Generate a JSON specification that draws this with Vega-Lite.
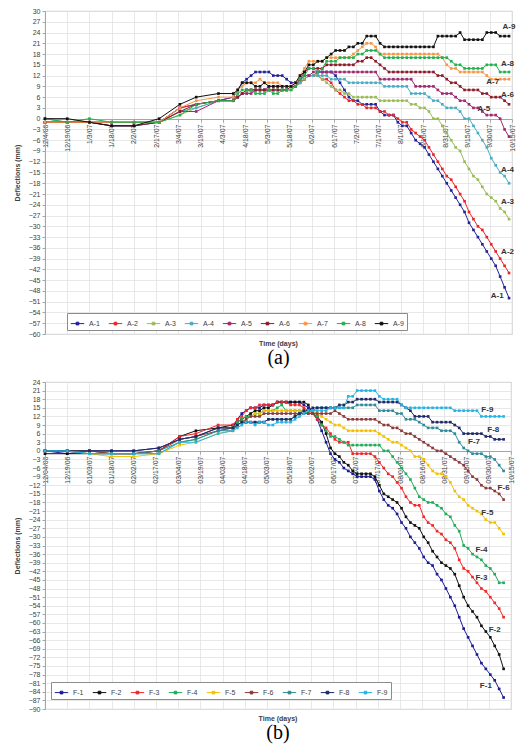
{
  "$schema": "https://vega.github.io/schema/vega-lite/v6.json",
  "padding": {"left": 12, "top": 6, "right": 2, "bottom": 0},
  "spacing": 8,
  "config": {
    "font": "Liberation Sans",
    "view": {"stroke": "#bfbfbf", "strokeWidth": 0.8},
    "axis": {
      "labelFontSize": 7,
      "labelColor": "#404040",
      "titleFontSize": 7,
      "titleFontWeight": "bold",
      "titleColor": "#404040",
      "gridColor": "#dedede",
      "gridWidth": 0.7,
      "domainColor": "#a6a6a6",
      "tickColor": "#a6a6a6",
      "tickSize": 3,
      "labelPadding": 2
    },
    "legend": {
      "labelFontSize": 7,
      "labelColor": "#404040",
      "strokeColor": "#8c8c8c",
      "fillColor": "white",
      "padding": 3,
      "columnPadding": 6,
      "symbolType": "M-1,0H1M-0.2,-0.2H0.2V0.2H-0.2Z",
      "symbolSize": 180,
      "symbolStrokeWidth": 1
    },
    "title": {"font": "Liberation Sans"}
  },
  "datasets": {
    "topLines": [
      {"d": "2006-12-04", "A-1": -1, "A-2": -1, "A-3": -1, "A-4": 0, "A-5": -1, "A-6": -1, "A-7": -1, "A-8": 0, "A-9": 0},
      {"d": "2006-12-19", "A-1": -1, "A-2": -1, "A-3": -1, "A-4": -1, "A-5": -1, "A-6": -1, "A-7": -1, "A-8": -1, "A-9": 0},
      {"d": "2007-01-03", "A-1": -1, "A-2": -1, "A-3": -1, "A-4": -1, "A-5": -1, "A-6": -1, "A-7": -1, "A-8": 0, "A-9": -1},
      {"d": "2007-01-18", "A-1": -2, "A-2": -1, "A-3": -1, "A-4": -1, "A-5": -1, "A-6": -2, "A-7": -1, "A-8": -1, "A-9": -2},
      {"d": "2007-02-02", "A-1": -2, "A-2": -1, "A-3": -1, "A-4": -1, "A-5": -1, "A-6": -2, "A-7": -1, "A-8": -1, "A-9": -2},
      {"d": "2007-02-19", "A-1": -1, "A-2": -1, "A-3": -1, "A-4": -1, "A-5": -1, "A-6": -1, "A-7": -1, "A-8": -1, "A-9": 0},
      {"d": "2007-03-05", "A-1": 3, "A-2": 3, "A-3": 1, "A-4": 2, "A-5": 2, "A-6": 2, "A-7": 3, "A-8": 1, "A-9": 4},
      {"d": "2007-03-16", "A-1": 4, "A-2": 4, "A-3": 3, "A-4": 3, "A-5": 2, "A-6": 4, "A-7": 5, "A-8": 4, "A-9": 6},
      {"d": "2007-03-31", "A-1": 5, "A-2": 5, "A-3": 5, "A-4": 5, "A-5": 5, "A-6": 5, "A-7": 6, "A-8": 5, "A-9": 7},
      {"d": "2007-04-10", "A-1": 6, "A-2": 5, "A-3": 5, "A-4": 5, "A-5": 6, "A-6": 5, "A-7": 6, "A-8": 5, "A-9": 7},
      {"d": "2007-04-13", "A-1": 8, "A-2": 6, "A-3": 6, "A-4": 6, "A-5": 6, "A-6": 6, "A-7": 8, "A-8": 7, "A-9": 8},
      {"d": "2007-04-16", "A-1": 10, "A-2": 7, "A-3": 7, "A-4": 7, "A-5": 7, "A-6": 7, "A-7": 9, "A-8": 8, "A-9": 10},
      {"d": "2007-04-19", "A-1": 11, "A-2": 8, "A-3": 7, "A-4": 8, "A-5": 7, "A-6": 8, "A-7": 10, "A-8": 8, "A-9": 10},
      {"d": "2007-04-22", "A-1": 12, "A-2": 8, "A-3": 8, "A-4": 8, "A-5": 7, "A-6": 8, "A-7": 10, "A-8": 8, "A-9": 10},
      {"d": "2007-04-25", "A-1": 13, "A-2": 8, "A-3": 8, "A-4": 8, "A-5": 8, "A-6": 8, "A-7": 10, "A-8": 7, "A-9": 9},
      {"d": "2007-04-28", "A-1": 13, "A-2": 8, "A-3": 8, "A-4": 8, "A-5": 8, "A-6": 8, "A-7": 11, "A-8": 7, "A-9": 9},
      {"d": "2007-05-01", "A-1": 13, "A-2": 8, "A-3": 8, "A-4": 8, "A-5": 8, "A-6": 8, "A-7": 10, "A-8": 7, "A-9": 10},
      {"d": "2007-05-04", "A-1": 13, "A-2": 8, "A-3": 8, "A-4": 8, "A-5": 9, "A-6": 8, "A-7": 10, "A-8": 8, "A-9": 9},
      {"d": "2007-05-07", "A-1": 12, "A-2": 8, "A-3": 8, "A-4": 8, "A-5": 9, "A-6": 8, "A-7": 10, "A-8": 7, "A-9": 9},
      {"d": "2007-05-10", "A-1": 12, "A-2": 8, "A-3": 8, "A-4": 8, "A-5": 9, "A-6": 8, "A-7": 10, "A-8": 7, "A-9": 9},
      {"d": "2007-05-13", "A-1": 12, "A-2": 8, "A-3": 8, "A-4": 8, "A-5": 9, "A-6": 8, "A-7": 9, "A-8": 8, "A-9": 9},
      {"d": "2007-05-16", "A-1": 11, "A-2": 8, "A-3": 8, "A-4": 8, "A-5": 9, "A-6": 8, "A-7": 9, "A-8": 8, "A-9": 9},
      {"d": "2007-05-19", "A-1": 10, "A-2": 9, "A-3": 8, "A-4": 9, "A-5": 9, "A-6": 9, "A-7": 9, "A-8": 8, "A-9": 9},
      {"d": "2007-05-22", "A-1": 10, "A-2": 9, "A-3": 9, "A-4": 9, "A-5": 10, "A-6": 9, "A-7": 10, "A-8": 9, "A-9": 10},
      {"d": "2007-05-25", "A-1": 10, "A-2": 10, "A-3": 10, "A-4": 10, "A-5": 11, "A-6": 11, "A-7": 12, "A-8": 11, "A-9": 12},
      {"d": "2007-05-28", "A-1": 11, "A-2": 11, "A-3": 11, "A-4": 12, "A-5": 12, "A-6": 13, "A-7": 14, "A-8": 12, "A-9": 13},
      {"d": "2007-05-31", "A-1": 12, "A-2": 12, "A-3": 12, "A-4": 12, "A-5": 12, "A-6": 14, "A-7": 16, "A-8": 14, "A-9": 15},
      {"d": "2007-06-03", "A-1": 12, "A-2": 12, "A-3": 12, "A-4": 12, "A-5": 13, "A-6": 14, "A-7": 16, "A-8": 14, "A-9": 15},
      {"d": "2007-06-06", "A-1": 13, "A-2": 12, "A-3": 12, "A-4": 12, "A-5": 13, "A-6": 14, "A-7": 16, "A-8": 13, "A-9": 16},
      {"d": "2007-06-09", "A-1": 13, "A-2": 11, "A-3": 11, "A-4": 12, "A-5": 13, "A-6": 14, "A-7": 16, "A-8": 14, "A-9": 16},
      {"d": "2007-06-12", "A-1": 13, "A-2": 11, "A-3": 10, "A-4": 12, "A-5": 13, "A-6": 15, "A-7": 17, "A-8": 16, "A-9": 17},
      {"d": "2007-06-15", "A-1": 13, "A-2": 10, "A-3": 9, "A-4": 11, "A-5": 13, "A-6": 15, "A-7": 17, "A-8": 16, "A-9": 18},
      {"d": "2007-06-18", "A-1": 12, "A-2": 8, "A-3": 8, "A-4": 11, "A-5": 13, "A-6": 15, "A-7": 17, "A-8": 16, "A-9": 19},
      {"d": "2007-06-21", "A-1": 10, "A-2": 7, "A-3": 8, "A-4": 11, "A-5": 13, "A-6": 15, "A-7": 17, "A-8": 17, "A-9": 19},
      {"d": "2007-06-24", "A-1": 8, "A-2": 6, "A-3": 7, "A-4": 11, "A-5": 13, "A-6": 15, "A-7": 17, "A-8": 17, "A-9": 19},
      {"d": "2007-06-27", "A-1": 6, "A-2": 5, "A-3": 7, "A-4": 10, "A-5": 13, "A-6": 15, "A-7": 17, "A-8": 17, "A-9": 20},
      {"d": "2007-06-30", "A-1": 5, "A-2": 5, "A-3": 6, "A-4": 10, "A-5": 13, "A-6": 15, "A-7": 18, "A-8": 17, "A-9": 20},
      {"d": "2007-07-03", "A-1": 5, "A-2": 4, "A-3": 6, "A-4": 10, "A-5": 13, "A-6": 16, "A-7": 19, "A-8": 18, "A-9": 21},
      {"d": "2007-07-06", "A-1": 4, "A-2": 4, "A-3": 6, "A-4": 10, "A-5": 13, "A-6": 16, "A-7": 20, "A-8": 18, "A-9": 21},
      {"d": "2007-07-09", "A-1": 4, "A-2": 3, "A-3": 6, "A-4": 10, "A-5": 13, "A-6": 17, "A-7": 21, "A-8": 19, "A-9": 23},
      {"d": "2007-07-12", "A-1": 4, "A-2": 3, "A-3": 6, "A-4": 10, "A-5": 13, "A-6": 17, "A-7": 21, "A-8": 19, "A-9": 23},
      {"d": "2007-07-15", "A-1": 4, "A-2": 3, "A-3": 6, "A-4": 10, "A-5": 13, "A-6": 16, "A-7": 20, "A-8": 19, "A-9": 23},
      {"d": "2007-07-18", "A-1": 2, "A-2": 2, "A-3": 5, "A-4": 10, "A-5": 11, "A-6": 15, "A-7": 18, "A-8": 18, "A-9": 21},
      {"d": "2007-07-21", "A-1": 1, "A-2": 2, "A-3": 5, "A-4": 9, "A-5": 11, "A-6": 14, "A-7": 18, "A-8": 17, "A-9": 20},
      {"d": "2007-07-24", "A-1": 1, "A-2": 1, "A-3": 5, "A-4": 9, "A-5": 11, "A-6": 13, "A-7": 18, "A-8": 17, "A-9": 20},
      {"d": "2007-07-27", "A-1": 1, "A-2": 1, "A-3": 5, "A-4": 9, "A-5": 11, "A-6": 13, "A-7": 18, "A-8": 17, "A-9": 20},
      {"d": "2007-07-30", "A-1": -1, "A-2": 0, "A-3": 5, "A-4": 9, "A-5": 11, "A-6": 13, "A-7": 18, "A-8": 17, "A-9": 20},
      {"d": "2007-08-02", "A-1": -2, "A-2": -1, "A-3": 5, "A-4": 9, "A-5": 11, "A-6": 13, "A-7": 18, "A-8": 17, "A-9": 20},
      {"d": "2007-08-05", "A-1": -2, "A-2": -1, "A-3": 5, "A-4": 9, "A-5": 11, "A-6": 13, "A-7": 18, "A-8": 17, "A-9": 20},
      {"d": "2007-08-08", "A-1": -4, "A-2": -3, "A-3": 4, "A-4": 7, "A-5": 11, "A-6": 13, "A-7": 18, "A-8": 17, "A-9": 20},
      {"d": "2007-08-11", "A-1": -6, "A-2": -4, "A-3": 4, "A-4": 7, "A-5": 9, "A-6": 13, "A-7": 18, "A-8": 17, "A-9": 20},
      {"d": "2007-08-14", "A-1": -7, "A-2": -5, "A-3": 3, "A-4": 7, "A-5": 9, "A-6": 13, "A-7": 18, "A-8": 17, "A-9": 20},
      {"d": "2007-08-17", "A-1": -8, "A-2": -6, "A-3": 3, "A-4": 7, "A-5": 9, "A-6": 13, "A-7": 18, "A-8": 17, "A-9": 20},
      {"d": "2007-08-20", "A-1": -10, "A-2": -8, "A-3": 2, "A-4": 6, "A-5": 9, "A-6": 13, "A-7": 18, "A-8": 17, "A-9": 20},
      {"d": "2007-08-23", "A-1": -12, "A-2": -10, "A-3": 0, "A-4": 5, "A-5": 9, "A-6": 13, "A-7": 18, "A-8": 17, "A-9": 20},
      {"d": "2007-08-26", "A-1": -14, "A-2": -12, "A-3": 0, "A-4": 5, "A-5": 8, "A-6": 12, "A-7": 18, "A-8": 17, "A-9": 23},
      {"d": "2007-08-29", "A-1": -16, "A-2": -14, "A-3": -2, "A-4": 4, "A-5": 7, "A-6": 12, "A-7": 17, "A-8": 17, "A-9": 23},
      {"d": "2007-09-01", "A-1": -18, "A-2": -16, "A-3": -4, "A-4": 3, "A-5": 7, "A-6": 11, "A-7": 15, "A-8": 17, "A-9": 23},
      {"d": "2007-09-04", "A-1": -20, "A-2": -17, "A-3": -6, "A-4": 3, "A-5": 7, "A-6": 10, "A-7": 14, "A-8": 16, "A-9": 23},
      {"d": "2007-09-07", "A-1": -22, "A-2": -19, "A-3": -8, "A-4": 3, "A-5": 6, "A-6": 10, "A-7": 14, "A-8": 15, "A-9": 23},
      {"d": "2007-09-10", "A-1": -24, "A-2": -21, "A-3": -9, "A-4": 2, "A-5": 5, "A-6": 9, "A-7": 13, "A-8": 15, "A-9": 24},
      {"d": "2007-09-13", "A-1": -26, "A-2": -23, "A-3": -12, "A-4": 0, "A-5": 5, "A-6": 8, "A-7": 13, "A-8": 14, "A-9": 22},
      {"d": "2007-09-16", "A-1": -29, "A-2": -26, "A-3": -14, "A-4": 0, "A-5": 4, "A-6": 8, "A-7": 13, "A-8": 14, "A-9": 22},
      {"d": "2007-09-19", "A-1": -31, "A-2": -28, "A-3": -16, "A-4": -2, "A-5": 3, "A-6": 8, "A-7": 13, "A-8": 14, "A-9": 22},
      {"d": "2007-09-22", "A-1": -33, "A-2": -30, "A-3": -17, "A-4": -4, "A-5": 3, "A-6": 8, "A-7": 13, "A-8": 14, "A-9": 22},
      {"d": "2007-09-25", "A-1": -35, "A-2": -31, "A-3": -19, "A-4": -6, "A-5": 2, "A-6": 7, "A-7": 13, "A-8": 14, "A-9": 22},
      {"d": "2007-09-28", "A-1": -37, "A-2": -33, "A-3": -21, "A-4": -8, "A-5": 1, "A-6": 7, "A-7": 12, "A-8": 15, "A-9": 24},
      {"d": "2007-10-01", "A-1": -39, "A-2": -35, "A-3": -22, "A-4": -11, "A-5": 1, "A-6": 6, "A-7": 11, "A-8": 15, "A-9": 24},
      {"d": "2007-10-04", "A-1": -41, "A-2": -37, "A-3": -23, "A-4": -13, "A-5": 1, "A-6": 6, "A-7": 11, "A-8": 15, "A-9": 24},
      {"d": "2007-10-07", "A-1": -44, "A-2": -39, "A-3": -25, "A-4": -15, "A-5": 0, "A-6": 6, "A-7": 11, "A-8": 13, "A-9": 23},
      {"d": "2007-10-10", "A-1": -47, "A-2": -41, "A-3": -26, "A-4": -16, "A-5": -3, "A-6": 5, "A-7": 11, "A-8": 13, "A-9": 23},
      {"d": "2007-10-13", "A-1": -50, "A-2": -43, "A-3": -28, "A-4": -18, "A-5": -5, "A-6": 4, "A-7": 11, "A-8": 13, "A-9": 23}
    ],
    "topLabels": [
      {"d": "2007-10-13", "value": 25.5, "label": "A-9"},
      {"d": "2007-10-12", "value": 15.2, "label": "A-8"},
      {"d": "2007-10-02", "value": 10.2, "label": "A-7"},
      {"d": "2007-10-12", "value": 6.5, "label": "A-6"},
      {"d": "2007-09-26", "value": 2.6, "label": "A-5"},
      {"d": "2007-10-12", "value": -14.2, "label": "A-4"},
      {"d": "2007-10-12", "value": -23.3, "label": "A-3"},
      {"d": "2007-10-12", "value": -37.2, "label": "A-2"},
      {"d": "2007-10-05", "value": -49.4, "label": "A-1"}
    ],
    "botLines": [
      {"d": "2006-12-04", "F-1": 0, "F-2": -1, "F-3": 0, "F-4": 0, "F-5": 0, "F-6": 0, "F-7": 0, "F-8": 0, "F-9": 0},
      {"d": "2006-12-19", "F-1": -1, "F-2": -1, "F-3": 0, "F-4": 0, "F-5": 0, "F-6": 0, "F-7": 0, "F-8": 0, "F-9": 0},
      {"d": "2007-01-03", "F-1": 0, "F-2": -1, "F-3": 0, "F-4": 0, "F-5": -1, "F-6": 0, "F-7": -1, "F-8": 0, "F-9": -1},
      {"d": "2007-01-18", "F-1": 0, "F-2": -1, "F-3": -1, "F-4": -1, "F-5": -2, "F-6": -1, "F-7": -1, "F-8": 0, "F-9": -1},
      {"d": "2007-02-02", "F-1": 0, "F-2": -1, "F-3": -1, "F-4": -1, "F-5": -2, "F-6": -1, "F-7": -1, "F-8": 0, "F-9": -1},
      {"d": "2007-02-19", "F-1": 1, "F-2": 0, "F-3": 0, "F-4": -1, "F-5": -1, "F-6": 0, "F-7": 0, "F-8": 1, "F-9": -1},
      {"d": "2007-03-05", "F-1": 4, "F-2": 5, "F-3": 5, "F-4": 3, "F-5": 2, "F-6": 4, "F-7": 3, "F-8": 4, "F-9": 3},
      {"d": "2007-03-16", "F-1": 5, "F-2": 7, "F-3": 6, "F-4": 4, "F-5": 3, "F-6": 5, "F-7": 4, "F-8": 5, "F-9": 3},
      {"d": "2007-03-31", "F-1": 8, "F-2": 8, "F-3": 9, "F-4": 7, "F-5": 6, "F-6": 7, "F-7": 7, "F-8": 8, "F-9": 6},
      {"d": "2007-04-10", "F-1": 8, "F-2": 9, "F-3": 9, "F-4": 8, "F-5": 7, "F-6": 8, "F-7": 7, "F-8": 8, "F-9": 7},
      {"d": "2007-04-13", "F-1": 11, "F-2": 10, "F-3": 11, "F-4": 10, "F-5": 9, "F-6": 9, "F-7": 9, "F-8": 9, "F-9": 8},
      {"d": "2007-04-16", "F-1": 13, "F-2": 11, "F-3": 12, "F-4": 11, "F-5": 10, "F-6": 10, "F-7": 10, "F-8": 10, "F-9": 9},
      {"d": "2007-04-19", "F-1": 14, "F-2": 12, "F-3": 14, "F-4": 12, "F-5": 11, "F-6": 11, "F-7": 10, "F-8": 10, "F-9": 10},
      {"d": "2007-04-22", "F-1": 15, "F-2": 13, "F-3": 15, "F-4": 12, "F-5": 12, "F-6": 12, "F-7": 10, "F-8": 10, "F-9": 10},
      {"d": "2007-04-25", "F-1": 15, "F-2": 14, "F-3": 15, "F-4": 13, "F-5": 13, "F-6": 12, "F-7": 10, "F-8": 10, "F-9": 9},
      {"d": "2007-04-28", "F-1": 15, "F-2": 14, "F-3": 16, "F-4": 13, "F-5": 13, "F-6": 12, "F-7": 10, "F-8": 10, "F-9": 10},
      {"d": "2007-05-01", "F-1": 16, "F-2": 15, "F-3": 16, "F-4": 14, "F-5": 14, "F-6": 13, "F-7": 10, "F-8": 10, "F-9": 10},
      {"d": "2007-05-04", "F-1": 16, "F-2": 15, "F-3": 16, "F-4": 14, "F-5": 14, "F-6": 13, "F-7": 11, "F-8": 11, "F-9": 9},
      {"d": "2007-05-07", "F-1": 16, "F-2": 16, "F-3": 16, "F-4": 14, "F-5": 14, "F-6": 13, "F-7": 11, "F-8": 11, "F-9": 9},
      {"d": "2007-05-10", "F-1": 17, "F-2": 17, "F-3": 17, "F-4": 15, "F-5": 14, "F-6": 13, "F-7": 11, "F-8": 11, "F-9": 10},
      {"d": "2007-05-13", "F-1": 17, "F-2": 17, "F-3": 17, "F-4": 16, "F-5": 14, "F-6": 13, "F-7": 11, "F-8": 11, "F-9": 10},
      {"d": "2007-05-16", "F-1": 17, "F-2": 17, "F-3": 17, "F-4": 14, "F-5": 14, "F-6": 13, "F-7": 11, "F-8": 11, "F-9": 10},
      {"d": "2007-05-19", "F-1": 17, "F-2": 17, "F-3": 16, "F-4": 14, "F-5": 14, "F-6": 13, "F-7": 11, "F-8": 11, "F-9": 10},
      {"d": "2007-05-22", "F-1": 17, "F-2": 17, "F-3": 16, "F-4": 14, "F-5": 14, "F-6": 13, "F-7": 12, "F-8": 12, "F-9": 11},
      {"d": "2007-05-25", "F-1": 17, "F-2": 17, "F-3": 16, "F-4": 14, "F-5": 14, "F-6": 13, "F-7": 13, "F-8": 13, "F-9": 12},
      {"d": "2007-05-28", "F-1": 16, "F-2": 17, "F-3": 15, "F-4": 14, "F-5": 14, "F-6": 13, "F-7": 14, "F-8": 14, "F-9": 13},
      {"d": "2007-05-31", "F-1": 15, "F-2": 16, "F-3": 14, "F-4": 13, "F-5": 14, "F-6": 13, "F-7": 14, "F-8": 14, "F-9": 14},
      {"d": "2007-06-03", "F-1": 13, "F-2": 13, "F-3": 13, "F-4": 13, "F-5": 14, "F-6": 13, "F-7": 14, "F-8": 15, "F-9": 14},
      {"d": "2007-06-06", "F-1": 11, "F-2": 12, "F-3": 11, "F-4": 12, "F-5": 13, "F-6": 13, "F-7": 15, "F-8": 15, "F-9": 14},
      {"d": "2007-06-09", "F-1": 7, "F-2": 10, "F-3": 9, "F-4": 9, "F-5": 12, "F-6": 13, "F-7": 15, "F-8": 15, "F-9": 14},
      {"d": "2007-06-12", "F-1": 3, "F-2": 6, "F-3": 8, "F-4": 7, "F-5": 11, "F-6": 13, "F-7": 15, "F-8": 15, "F-9": 14},
      {"d": "2007-06-15", "F-1": -1, "F-2": 1, "F-3": 6, "F-4": 5, "F-5": 10, "F-6": 13, "F-7": 15, "F-8": 15, "F-9": 15},
      {"d": "2007-06-18", "F-1": -3, "F-2": -1, "F-3": 4, "F-4": 5, "F-5": 9, "F-6": 14, "F-7": 15, "F-8": 15, "F-9": 15},
      {"d": "2007-06-21", "F-1": -4, "F-2": -2, "F-3": 3, "F-4": 4, "F-5": 9, "F-6": 13, "F-7": 15, "F-8": 16, "F-9": 15},
      {"d": "2007-06-24", "F-1": -6, "F-2": -4, "F-3": 3, "F-4": 3, "F-5": 8, "F-6": 12, "F-7": 15, "F-8": 16, "F-9": 15},
      {"d": "2007-06-27", "F-1": -7, "F-2": -5, "F-3": 3, "F-4": 2, "F-5": 7, "F-6": 11, "F-7": 15, "F-8": 17, "F-9": 19},
      {"d": "2007-06-30", "F-1": -8, "F-2": -7, "F-3": -1, "F-4": 2, "F-5": 7, "F-6": 11, "F-7": 15, "F-8": 17, "F-9": 19},
      {"d": "2007-07-03", "F-1": -9, "F-2": -8, "F-3": -1, "F-4": 2, "F-5": 7, "F-6": 11, "F-7": 16, "F-8": 18, "F-9": 21},
      {"d": "2007-07-06", "F-1": -9, "F-2": -8, "F-3": -1, "F-4": 2, "F-5": 7, "F-6": 11, "F-7": 16, "F-8": 18, "F-9": 21},
      {"d": "2007-07-09", "F-1": -9, "F-2": -8, "F-3": -1, "F-4": 2, "F-5": 7, "F-6": 11, "F-7": 16, "F-8": 18, "F-9": 21},
      {"d": "2007-07-12", "F-1": -9, "F-2": -8, "F-3": -1, "F-4": 2, "F-5": 7, "F-6": 11, "F-7": 16, "F-8": 18, "F-9": 21},
      {"d": "2007-07-15", "F-1": -10, "F-2": -9, "F-3": -2, "F-4": 2, "F-5": 7, "F-6": 11, "F-7": 16, "F-8": 18, "F-9": 21},
      {"d": "2007-07-18", "F-1": -14, "F-2": -12, "F-3": -4, "F-4": 2, "F-5": 6, "F-6": 10, "F-7": 14, "F-8": 17, "F-9": 19},
      {"d": "2007-07-21", "F-1": -17, "F-2": -15, "F-3": -6, "F-4": 0, "F-5": 5, "F-6": 9, "F-7": 14, "F-8": 17, "F-9": 18},
      {"d": "2007-07-24", "F-1": -19, "F-2": -16, "F-3": -8, "F-4": 0, "F-5": 4, "F-6": 9, "F-7": 14, "F-8": 17, "F-9": 18},
      {"d": "2007-07-27", "F-1": -20, "F-2": -17, "F-3": -9, "F-4": -2, "F-5": 3, "F-6": 8, "F-7": 14, "F-8": 17, "F-9": 18},
      {"d": "2007-07-30", "F-1": -22, "F-2": -18, "F-3": -11, "F-4": -4, "F-5": 3, "F-6": 8, "F-7": 13, "F-8": 17, "F-9": 18},
      {"d": "2007-08-02", "F-1": -25, "F-2": -20, "F-3": -13, "F-4": -6, "F-5": 2, "F-6": 7, "F-7": 13, "F-8": 16, "F-9": 16},
      {"d": "2007-08-05", "F-1": -27, "F-2": -23, "F-3": -16, "F-4": -8, "F-5": 1, "F-6": 6, "F-7": 11, "F-8": 15, "F-9": 15},
      {"d": "2007-08-08", "F-1": -30, "F-2": -25, "F-3": -18, "F-4": -10, "F-5": 0, "F-6": 6, "F-7": 11, "F-8": 14, "F-9": 15},
      {"d": "2007-08-11", "F-1": -32, "F-2": -26, "F-3": -19, "F-4": -13, "F-5": -2, "F-6": 5, "F-7": 11, "F-8": 12, "F-9": 15},
      {"d": "2007-08-14", "F-1": -34, "F-2": -27, "F-3": -19, "F-4": -16, "F-5": -2, "F-6": 4, "F-7": 10, "F-8": 12, "F-9": 15},
      {"d": "2007-08-17", "F-1": -37, "F-2": -30, "F-3": -23, "F-4": -17, "F-5": -3, "F-6": 3, "F-7": 9, "F-8": 12, "F-9": 15},
      {"d": "2007-08-20", "F-1": -39, "F-2": -32, "F-3": -25, "F-4": -18, "F-5": -5, "F-6": 2, "F-7": 8, "F-8": 12, "F-9": 15},
      {"d": "2007-08-23", "F-1": -40, "F-2": -35, "F-3": -26, "F-4": -18, "F-5": -7, "F-6": 1, "F-7": 8, "F-8": 10, "F-9": 15},
      {"d": "2007-08-26", "F-1": -43, "F-2": -37, "F-3": -28, "F-4": -19, "F-5": -8, "F-6": 0, "F-7": 8, "F-8": 10, "F-9": 15},
      {"d": "2007-08-29", "F-1": -45, "F-2": -39, "F-3": -29, "F-4": -20, "F-5": -8, "F-6": 0, "F-7": 7, "F-8": 10, "F-9": 15},
      {"d": "2007-09-01", "F-1": -48, "F-2": -40, "F-3": -31, "F-4": -22, "F-5": -9, "F-6": -1, "F-7": 7, "F-8": 10, "F-9": 15},
      {"d": "2007-09-04", "F-1": -51, "F-2": -41, "F-3": -32, "F-4": -23, "F-5": -11, "F-6": -2, "F-7": 7, "F-8": 10, "F-9": 15},
      {"d": "2007-09-07", "F-1": -54, "F-2": -43, "F-3": -34, "F-4": -26, "F-5": -14, "F-6": -3, "F-7": 6, "F-8": 9, "F-9": 14},
      {"d": "2007-09-10", "F-1": -58, "F-2": -47, "F-3": -38, "F-4": -28, "F-5": -16, "F-6": -4, "F-7": 3, "F-8": 8, "F-9": 14},
      {"d": "2007-09-13", "F-1": -62, "F-2": -51, "F-3": -41, "F-4": -33, "F-5": -17, "F-6": -5, "F-7": 1, "F-8": 6, "F-9": 14},
      {"d": "2007-09-16", "F-1": -65, "F-2": -54, "F-3": -42, "F-4": -34, "F-5": -19, "F-6": -7, "F-7": 0, "F-8": 6, "F-9": 14},
      {"d": "2007-09-19", "F-1": -68, "F-2": -56, "F-3": -44, "F-4": -36, "F-5": -20, "F-6": -9, "F-7": -1, "F-8": 6, "F-9": 14},
      {"d": "2007-09-22", "F-1": -71, "F-2": -58, "F-3": -46, "F-4": -37, "F-5": -21, "F-6": -10, "F-7": -1, "F-8": 6, "F-9": 14},
      {"d": "2007-09-25", "F-1": -74, "F-2": -61, "F-3": -48, "F-4": -38, "F-5": -22, "F-6": -12, "F-7": -1, "F-8": 6, "F-9": 12},
      {"d": "2007-09-28", "F-1": -76, "F-2": -63, "F-3": -49, "F-4": -40, "F-5": -24, "F-6": -13, "F-7": -2, "F-8": 5, "F-9": 12},
      {"d": "2007-10-01", "F-1": -78, "F-2": -65, "F-3": -51, "F-4": -41, "F-5": -25, "F-6": -13, "F-7": -2, "F-8": 5, "F-9": 12},
      {"d": "2007-10-04", "F-1": -80, "F-2": -68, "F-3": -53, "F-4": -43, "F-5": -25, "F-6": -14, "F-7": -3, "F-8": 4, "F-9": 12},
      {"d": "2007-10-07", "F-1": -83, "F-2": -71, "F-3": -55, "F-4": -46, "F-5": -27, "F-6": -15, "F-7": -5, "F-8": 4, "F-9": 12},
      {"d": "2007-10-10", "F-1": -86, "F-2": -76, "F-3": -58, "F-4": -46, "F-5": -29, "F-6": -17, "F-7": -7, "F-8": 4, "F-9": 12}
    ],
    "botLabels": [
      {"d": "2007-09-29", "value": 14.3, "label": "F-9"},
      {"d": "2007-10-03", "value": 7.3, "label": "F-8"},
      {"d": "2007-09-20", "value": 3.0, "label": "F-7"},
      {"d": "2007-10-10", "value": -12.9, "label": "F-6"},
      {"d": "2007-09-29", "value": -21.6, "label": "F-5"},
      {"d": "2007-09-25", "value": -34.5, "label": "F-4"},
      {"d": "2007-09-25", "value": -44.3, "label": "F-3"},
      {"d": "2007-10-04", "value": -62.3, "label": "F-2"},
      {"d": "2007-09-28", "value": -82.1, "label": "F-1"}
    ]
  },
  "vconcat": [
    {
      "width": 467,
      "height": 323,
      "title": {
        "text": "Time (days)",
        "orient": "bottom",
        "anchor": "middle",
        "fontSize": 7,
        "fontWeight": "bold",
        "color": "#404040",
        "offset": 3,
        "subtitle": "(a)",
        "subtitleFont": "Liberation Serif",
        "subtitleFontSize": 20,
        "subtitleColor": "black",
        "subtitlePadding": 1
      },
      "encoding": {
        "x": {
          "field": "d",
          "type": "temporal",
          "scale": {
            "type": "utc",
            "domain": [
              {"year": 2006, "month": 12, "date": 4, "utc": true},
              {"year": 2007, "month": 10, "date": 15, "utc": true}
            ]
          },
          "axis": {
            "title": null,
            "offset": -215,
            "labelExpr": "utcFormat(datum.value, '%-m/%-d/%y')",
            "labelAngle": 270,
            "labelOverlap": false,
            "labelFlush": false,
            "grid": true,
            "values": [
              {"year": 2006, "month": 12, "date": 4, "utc": true},
              {"year": 2006, "month": 12, "date": 19, "utc": true},
              {"year": 2007, "month": 1, "date": 3, "utc": true},
              {"year": 2007, "month": 1, "date": 18, "utc": true},
              {"year": 2007, "month": 2, "date": 2, "utc": true},
              {"year": 2007, "month": 2, "date": 17, "utc": true},
              {"year": 2007, "month": 3, "date": 4, "utc": true},
              {"year": 2007, "month": 3, "date": 19, "utc": true},
              {"year": 2007, "month": 4, "date": 3, "utc": true},
              {"year": 2007, "month": 4, "date": 18, "utc": true},
              {"year": 2007, "month": 5, "date": 3, "utc": true},
              {"year": 2007, "month": 5, "date": 18, "utc": true},
              {"year": 2007, "month": 6, "date": 2, "utc": true},
              {"year": 2007, "month": 6, "date": 17, "utc": true},
              {"year": 2007, "month": 7, "date": 2, "utc": true},
              {"year": 2007, "month": 7, "date": 17, "utc": true},
              {"year": 2007, "month": 8, "date": 1, "utc": true},
              {"year": 2007, "month": 8, "date": 16, "utc": true},
              {"year": 2007, "month": 8, "date": 31, "utc": true},
              {"year": 2007, "month": 9, "date": 15, "utc": true},
              {"year": 2007, "month": 9, "date": 30, "utc": true},
              {"year": 2007, "month": 10, "date": 15, "utc": true}
            ]
          }
        },
        "y": {
          "field": "value",
          "type": "quantitative",
          "scale": {"domain": [-60, 30], "nice": false, "zero": false},
          "axis": {
            "title": "Deflections (mm)",
            "titlePadding": 8,
            "grid": true,
            "values": [-60, -57, -54, -51, -48, -45, -42, -39, -36, -33, -30, -27, -24, -21, -18, -15, -12, -9, -6, -3, 0, 3, 6, 9, 12, 15, 18, 21, 24, 27, 30]
          }
        }
      },
      "layer": [
        {
          "data": {"name": "topLines"},
          "transform": [
            {"fold": ["A-1", "A-2", "A-3", "A-4", "A-5", "A-6", "A-7", "A-8", "A-9"], "as": ["series", "value"]}
          ],
          "mark": {
            "type": "line",
            "strokeWidth": 1,
            "point": {"filled": true, "shape": "square", "size": 7}
          },
          "encoding": {
            "color": {
              "field": "series",
              "type": "nominal",
              "scale": {
                "domain": ["A-1", "A-2", "A-3", "A-4", "A-5", "A-6", "A-7", "A-8", "A-9"],
                "range": ["#23239a", "#e8262a", "#9bbb59", "#4bacc6", "#9e2a72", "#8b1c2c", "#f79646", "#23b04f", "#111111"]
              },
              "legend": {
                "title": null,
                "orient": "none",
                "direction": "horizontal",
                "legendX": 22,
                "legendY": 302
              }
            }
          }
        },
        {
          "data": {"name": "topLabels"},
          "mark": {"type": "text", "fontSize": 8, "fontWeight": "bold", "color": "#333333"},
          "encoding": {"text": {"field": "label"}}
        }
      ]
    },
    {
      "width": 466,
      "height": 327,
      "title": {
        "text": "Time (days)",
        "orient": "bottom",
        "anchor": "middle",
        "fontSize": 7,
        "fontWeight": "bold",
        "color": "#404040",
        "offset": 3,
        "subtitle": "(b)",
        "subtitleFont": "Liberation Serif",
        "subtitleFontSize": 20,
        "subtitleColor": "black",
        "subtitlePadding": 1
      },
      "encoding": {
        "x": {
          "field": "d",
          "type": "temporal",
          "scale": {
            "type": "utc",
            "domain": [
              {"year": 2006, "month": 12, "date": 4, "utc": true},
              {"year": 2007, "month": 10, "date": 15, "utc": true}
            ]
          },
          "axis": {
            "title": null,
            "offset": -258,
            "labelExpr": "utcFormat(datum.value, '%m/%d/%y')",
            "labelAngle": 270,
            "labelOverlap": false,
            "labelFlush": false,
            "grid": true,
            "values": [
              {"year": 2006, "month": 12, "date": 4, "utc": true},
              {"year": 2006, "month": 12, "date": 19, "utc": true},
              {"year": 2007, "month": 1, "date": 3, "utc": true},
              {"year": 2007, "month": 1, "date": 18, "utc": true},
              {"year": 2007, "month": 2, "date": 2, "utc": true},
              {"year": 2007, "month": 2, "date": 17, "utc": true},
              {"year": 2007, "month": 3, "date": 4, "utc": true},
              {"year": 2007, "month": 3, "date": 19, "utc": true},
              {"year": 2007, "month": 4, "date": 3, "utc": true},
              {"year": 2007, "month": 4, "date": 18, "utc": true},
              {"year": 2007, "month": 5, "date": 3, "utc": true},
              {"year": 2007, "month": 5, "date": 18, "utc": true},
              {"year": 2007, "month": 6, "date": 2, "utc": true},
              {"year": 2007, "month": 6, "date": 17, "utc": true},
              {"year": 2007, "month": 7, "date": 2, "utc": true},
              {"year": 2007, "month": 7, "date": 17, "utc": true},
              {"year": 2007, "month": 8, "date": 1, "utc": true},
              {"year": 2007, "month": 8, "date": 16, "utc": true},
              {"year": 2007, "month": 8, "date": 31, "utc": true},
              {"year": 2007, "month": 9, "date": 15, "utc": true},
              {"year": 2007, "month": 9, "date": 30, "utc": true},
              {"year": 2007, "month": 10, "date": 15, "utc": true}
            ]
          }
        },
        "y": {
          "field": "value",
          "type": "quantitative",
          "scale": {"domain": [-90, 24], "nice": false, "zero": false},
          "axis": {
            "title": "Deflections (mm)",
            "titlePadding": 8,
            "grid": true,
            "values": [-90, -87, -84, -81, -78, -75, -72, -69, -66, -63, -60, -57, -54, -51, -48, -45, -42, -39, -36, -33, -30, -27, -24, -21, -18, -15, -12, -9, -6, -3, 0, 3, 6, 9, 12, 15, 18, 21, 24]
          }
        }
      },
      "layer": [
        {
          "data": {"name": "botLines"},
          "transform": [
            {"fold": ["F-1", "F-2", "F-3", "F-4", "F-5", "F-6", "F-7", "F-8", "F-9"], "as": ["series", "value"]}
          ],
          "mark": {
            "type": "line",
            "strokeWidth": 1,
            "point": {"filled": true, "shape": "square", "size": 7}
          },
          "encoding": {
            "color": {
              "field": "series",
              "type": "nominal",
              "scale": {
                "domain": ["F-1", "F-2", "F-3", "F-4", "F-5", "F-6", "F-7", "F-8", "F-9"],
                "range": ["#1c1c94", "#111111", "#f0282a", "#1fad5a", "#f5c000", "#8c3a3a", "#2e8b99", "#1f2a66", "#25b5e5"]
              },
              "legend": {
                "title": null,
                "orient": "none",
                "direction": "horizontal",
                "legendX": 6,
                "legendY": 300
              }
            }
          }
        },
        {
          "data": {"name": "botLabels"},
          "mark": {"type": "text", "fontSize": 8, "fontWeight": "bold", "color": "#333333"},
          "encoding": {"text": {"field": "label"}}
        }
      ]
    }
  ],
  "resolve": {"scale": {"color": "independent", "x": "independent", "y": "independent"}}
}
